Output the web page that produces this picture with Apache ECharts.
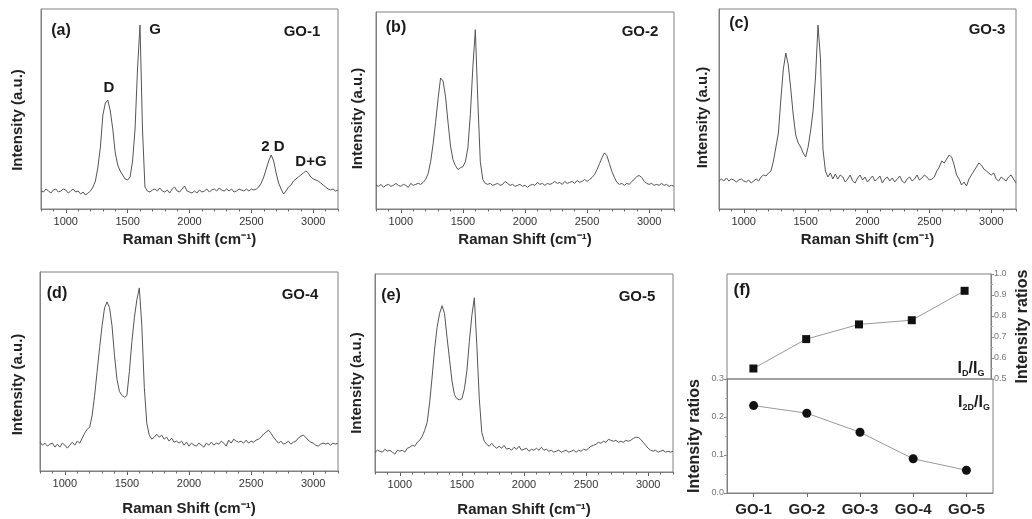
<!DOCTYPE html>
<html>
<head>
<meta charset="utf-8">
<script src="https://cdn.jsdelivr.net/npm/echarts@6/dist/echarts.min.js"></script>
<style>
html,body{margin:0;padding:0;background:#fff;}
#chart{width:1032px;height:519px;}
</style>
</head>
<body>
<div id="chart"></div>
<script>
// ---------- DATA ----------
const wavenumbers = [
  800,820,840,860,880,900,920,940,960,980,
  1000,1020,1040,1060,1080,1100,1120,1140,1160,1180,
  1200,1220,1240,1260,1280,1300,1320,1340,1360,1380,
  1400,1420,1440,1460,1480,1500,1520,1540,1560,1580,
  1600,1620,1640,1660,1680,1700,1720,1740,1760,1780,
  1800,1820,1840,1860,1880,1900,1920,1940,1960,1980,
  2000,2020,2040,2060,2080,2100,2120,2140,2160,2180,
  2200,2220,2240,2260,2280,2300,2320,2340,2360,2380,
  2400,2420,2440,2460,2480,2500,2520,2540,2560,2580,
  2600,2620,2640,2660,2680,2700,2720,2740,2760,2780,
  2800,2820,2840,2860,2880,2900,2920,2940,2960,2980,
  3000,3020,3040,3060,3080,3100,3120,3140,3160,3180,
  3200
];
const go1 = [
  9,8.5,10,9,8,9.5,10,8.5,9,10,
  9.5,8,9,10,8.5,9,7.5,8.5,7,8,
  9,11,14,21,31,47,53,54.5,49,40,
  28,22,19,17,15,14.5,16,24,40,70,
  92,40,11,9,8.5,9.5,10,9,10.5,9,
  8.5,9.5,8,10,11,9,8.5,10,11.5,9,
  8.5,8,9,8,9.5,8.5,9,10,8.5,9.5,
  10,9,10.5,9.5,9,10,9,10,8.5,9,
  10,9.5,9,10,9,10,9.5,10,11,13,
  16,20,24,27,24,18,13,10,7.5,9,
  11,12,14,15,16,17,18,19,18,16,
  15,14.5,14,13,12,11,10,9.5,10,9,
  9.5
];
const go2 = [
  12,11.5,12.5,11,12,12.5,11.5,12,13,12,
  11.5,12.5,12,11,13,12,12.5,13,12.5,13.5,
  15,18,24,33,44,56,66.5,65,57,44,
  32,25,22,20,21,21.5,24,31,48,72,
  91,55,24,15,13,12.5,13,12,12.5,13,
  12,12.5,14,13,12,12.5,11.5,12,12.5,11.5,
  12,11,12,12.5,12,13.5,12.5,13,12,13,
  12.5,13,14,13,13.5,12.5,14,13,13.5,14,
  13,14.5,13.5,14,15,14,15,16,17.5,20,
  23,26,28.5,27,23,19,16,13.5,12.5,13,
  12,13,12.5,14,15,16.5,17,16,14,13,
  12.5,13,12,12.5,12,13,12,12.5,11.5,12,
  11.5
];
const go3 = [
  14,15,14,15.5,14,15,14.5,13.5,14.5,15,
  14,13.5,14.5,13,14,15,14,16,17,16.5,
  18,19,24,31,38,55,70,78,72,60,
  47,37,33,31,28,26,31,39,49,66,
  92,75,30,19,16,18,15,17.5,15,17,
  16,13.5,15,17,14,13,15.5,17,14.5,16,
  13.5,15,16.5,14,15,16.5,13,15,16,14,
  15.5,13.5,15,16.5,14,13,15,16,14,15,
  17,14.5,15.5,17,16,14.5,15,16,19,21,
  24,23,25,27,26,22,17,15,12,13.5,
  11.5,15,17,19,21,23,22,20,19,18,
  17,18,15,14,16,15,14,16,17,15,
  13
];
const go4 = [
  14.5,13,14,12.5,13.5,14,12,13.5,12,14,
  13,11.5,13,14.5,13,15,14,16.5,19,21,
  22,28,38,50,62,73,82,85,82,73,
  58,46,40,38,37,38,50,65,77,86,
  92,73,42,24,18,16,17,18.5,17,18,
  16,17,15,16.5,14.5,15,14,15,13,14.5,
  12.5,14,13,12.5,14,13,12,14,13,14.5,
  13,14,13.5,15,14,12.5,15.5,14,16,15,
  14.5,15,14,15.5,14,15,14.5,15.5,16,17,
  18.5,19.5,20.5,19,17,15.5,14,15,13.5,14,
  15,13.5,14.5,15,16.5,17.5,18,17,15.5,14.5,
  14,13,12.5,13.5,14,13.5,14,13,14,13.5,
  14
];
const go5 = [
  10,11,10.5,10,11.5,10.5,11,10,9,11,
  10.5,11,10,12,12.5,13.5,13,15,16,18,
  21,25,35,48,62,73,80,84,80,68,
  57,46,39,37,36.5,37,42,51,66,79,
  88,64,37,20,15.5,14,13,14.5,13,12,
  13,12,13.5,11.5,12,11,12.5,11.5,13,11,
  11.5,12,10.5,11.5,11,12,11,12.5,11,11.5,
  10.5,11,10,10.5,11,10,10.5,11,10,10.5,
  11,10,11,10.5,11.5,11,12,13,13.5,14,
  15,14.5,15.5,15,16.5,16,15.5,16,15,15.5,
  15,16,15.5,16,17,17.5,17.5,16.5,15,13.5,
  12,11,10.5,11,10,10.5,11,10,10.5,10,
  10.5
];
const spectra = [go1, go2, go3, go4, go5];
const xTickLabels = [1000, 1500, 2000, 2500, 3000];
const samples = ['GO-1', 'GO-2', 'GO-3', 'GO-4', 'GO-5'];
const ratioDG = [0.55, 0.69, 0.76, 0.78, 0.92];
const ratio2DG = [0.23, 0.21, 0.16, 0.09, 0.06];

// ---------- LAYOUT / STYLE ----------
const FONT = '"Liberation Sans", Arial, sans-serif';
const FRAME = '#808080';
const panels = [
  {left: 41, top: 9, width: 297, height: 200, nameGapX: 23, nameGapY: 16, shiftY: 22},
  {left: 376, top: 12, width: 298, height: 197, nameGapX: 23, nameGapY: 11, shiftY: 16},
  {left: 719, top: 9, width: 297, height: 200, nameGapX: 23, nameGapY: 9, shiftY: 17},
  {left: 40, top: 272, width: 298, height: 199, nameGapX: 30, nameGapY: 15, shiftY: 26},
  {left: 375, top: 274, width: 298, height: 198, nameGapX: 30, nameGapY: 11, shiftY: 20}
];

const grids = [], xAxes = [], yAxes = [], series = [];
panels.forEach((p, i) => {
  grids.push({left: p.left, top: p.top, width: p.width, height: p.height,
    show: true, borderColor: FRAME, borderWidth: 1, backgroundColor: 'transparent'});
  xAxes.push({
    gridIndex: i, type: 'value', min: 800, max: 3200, position: 'bottom',
    axisLine: {show: true, lineStyle: {color: FRAME, width: 1}},
    axisTick: {show: true, length: 4, customValues: xTickLabels, lineStyle: {color: '#555'}},
    axisLabel: {show: true, customValues: xTickLabels, color: '#333', fontSize: 11, fontFamily: FONT, margin: 7,
      formatter: v => String(v)},
    splitLine: {show: false},
    name: 'Raman Shift (cm\u207B\u00B9)', nameLocation: 'middle', nameGap: p.nameGapX,
    nameTextStyle: {fontSize: 15, fontWeight: 'bold', color: '#222', fontFamily: FONT}
  });
  xAxes.push({
    gridIndex: i, type: 'value', min: 800, max: 3200, interval: 100, position: 'bottom',
    axisLine: {show: false},
    axisTick: {show: true, length: 2.5, lineStyle: {color: '#666'}},
    axisLabel: {show: false}, splitLine: {show: false}
  });
  yAxes.push({
    gridIndex: i, type: 'value', min: 0, max: 100,
    axisLine: {show: true, lineStyle: {color: FRAME}},
    axisTick: {show: false}, axisLabel: {show: false}, splitLine: {show: false},
    name: 'Intensity (a.u.)', nameLocation: 'middle', nameGap: p.nameGapY, nameRotate: 90,
    nameTextStyle: {fontSize: 15, fontWeight: 'bold', color: '#222', fontFamily: FONT,
      padding: [0, p.shiftY, 0, 0]}
  });
  series.push({
    type: 'line', xAxisIndex: 2 * i, yAxisIndex: i,
    data: wavenumbers.map((w, k) => [w, spectra[i][k]]),
    showSymbol: false, symbol: 'none', smooth: false,
    lineStyle: {color: '#555', width: 1}, silent: true, animation: false
  });
});

// panel (f)
grids.push({left: 727, top: 274, width: 266, height: 105, show: true, borderColor: FRAME, borderWidth: 1, backgroundColor: 'transparent'});
grids.push({left: 727, top: 379, width: 266, height: 114, show: true, borderColor: FRAME, borderWidth: 1, backgroundColor: 'transparent'});
xAxes.push({gridIndex: 5, type: 'category', data: samples, boundaryGap: true,
  axisLine: {show: false}, axisTick: {show: false}, axisLabel: {show: false}});
xAxes.push({gridIndex: 6, type: 'category', data: samples, boundaryGap: true,
  axisLine: {show: true, lineStyle: {color: FRAME}},
  axisTick: {show: true, alignWithLabel: true, length: 4, lineStyle: {color: '#666'}},
  axisLabel: {color: '#222', fontSize: 15, fontWeight: 'bold', fontFamily: FONT, margin: 9}});
yAxes.push({gridIndex: 5, type: 'value', position: 'right', min: 0.5, max: 1.0, interval: 0.1,
  axisLine: {show: true, lineStyle: {color: FRAME}},
  axisTick: {show: true, length: 3, lineStyle: {color: '#888'}},
  minorTick: {show: true, splitNumber: 2, length: 2, lineStyle: {color: '#aaa'}},
  axisLabel: {fontSize: 9, color: '#777', fontFamily: FONT, margin: 3, formatter: v => v.toFixed(1)},
  splitLine: {show: false},
  name: 'Intensity ratios', nameLocation: 'middle', nameGap: 24, nameRotate: 90,
  nameTextStyle: {fontSize: 16, fontWeight: 'bold', color: '#222', fontFamily: FONT}});
yAxes.push({gridIndex: 6, type: 'value', min: 0, max: 0.3, interval: 0.1,
  axisLine: {show: true, lineStyle: {color: FRAME}},
  axisTick: {show: true, length: 3, lineStyle: {color: '#888'}},
  minorTick: {show: true, splitNumber: 2, length: 2, lineStyle: {color: '#aaa'}},
  axisLabel: {fontSize: 9, color: '#777', fontFamily: FONT, margin: 3, formatter: v => v.toFixed(1)},
  splitLine: {show: false},
  name: 'Intensity ratios', nameLocation: 'middle', nameGap: 24, nameRotate: 90,
  nameTextStyle: {fontSize: 16, fontWeight: 'bold', color: '#222', fontFamily: FONT}});
series.push({type: 'line', xAxisIndex: 10, yAxisIndex: 5, data: ratioDG,
  symbol: 'rect', symbolSize: 8, itemStyle: {color: '#111'},
  lineStyle: {color: '#999', width: 1}, animation: false});
series.push({type: 'line', xAxisIndex: 11, yAxisIndex: 6, data: ratio2DG,
  symbol: 'circle', symbolSize: 9, itemStyle: {color: '#111'},
  lineStyle: {color: '#999', width: 1}, animation: false});

// ---------- annotations ----------
function label(text, x, y, size) {
  return {type: 'text', x: x, y: y, silent: true,
    style: {text: text, fill: '#1a1a1a', font: 'bold ' + size + 'px ' + FONT, align: 'center', verticalAlign: 'middle'}};
}
const richSub = {
  m: {fontSize: 16, fontWeight: 'bold', fill: '#1a1a1a', color: '#1a1a1a', fontFamily: FONT, lineHeight: 18},
  s: {fontSize: 9, fontWeight: 'bold', fill: '#1a1a1a', color: '#1a1a1a', fontFamily: FONT, lineHeight: 8, verticalAlign: 'bottom'}
};
const graphics = [
  label('(a)', 61, 31, 16), label('GO-1', 302, 32, 15),
  label('D', 109, 88, 15), label('G', 155, 30, 15), label('2 D', 273, 147, 15), label('D+G', 311, 162, 15),
  label('(b)', 396, 28, 16), label('GO-2', 640, 32, 15),
  label('(c)', 739, 24, 16), label('GO-3', 987, 30, 15),
  label('(d)', 57, 294, 16), label('GO-4', 300, 295, 15),
  label('(e)', 391, 296, 16), label('GO-5', 637, 297, 15),
  label('(f)', 742, 290, 17),
  {type: 'text', x: 971, y: 369, silent: true,
   style: {text: '{m|I}{s|D}{m|/I}{s|G}', rich: richSub, align: 'center', verticalAlign: 'middle'}},
  {type: 'text', x: 974, y: 403, silent: true,
   style: {text: '{m|I}{s|2D}{m|/I}{s|G}', rich: richSub, align: 'center', verticalAlign: 'middle'}}
];

const chart = echarts.init(document.getElementById('chart'), null, {renderer: 'canvas'});
chart.setOption({
  backgroundColor: '#ffffff',
  animation: false,
  textStyle: {fontFamily: FONT},
  grid: grids, xAxis: xAxes, yAxis: yAxes, series: series,
  graphic: graphics
});
</script>
</body>
</html>
